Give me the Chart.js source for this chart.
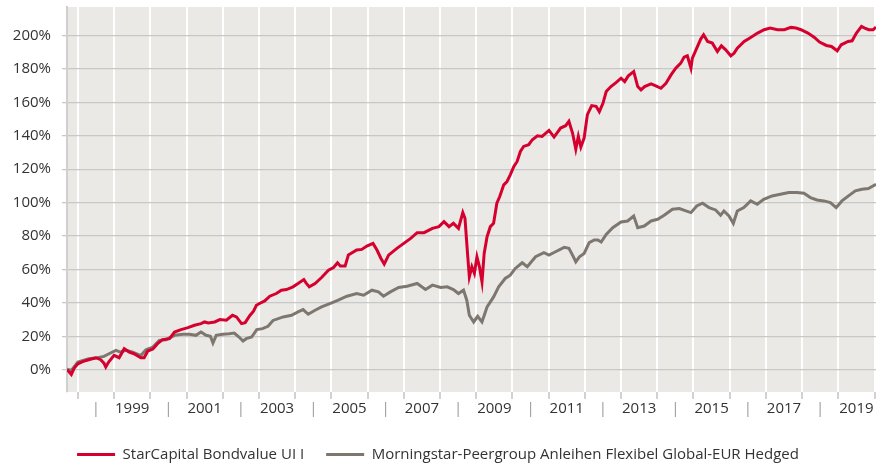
<!DOCTYPE html>
<html>
<head>
<meta charset="utf-8">
<script src="https://cdn.jsdelivr.net/npm/chart.js@4.4.1/dist/chart.umd.min.js"></script>
<style>
	html, body { margin: 0; padding: 0; background: #fff; }
	#chart { display: block; }
</style>
</head>
<body>
<canvas id="chart" width="883" height="466"></canvas>
<script>

var seriesNames = ["StarCapital Bondvalue UI I", "Morningstar-Peergroup Anleihen Flexibel Global-EUR Hedged"];

// StarCapital Bondvalue UI I, cumulative return in %
var redYears = [
	1997.70,1997.75,1997.82,1997.90,1998.00,1998.15,1998.30,1998.50,1998.63,1998.72,
	1998.77,1998.85,1999.00,1999.14,1999.28,1999.42,1999.55,1999.74,1999.83,1999.93,
	2000.07,2000.20,2000.34,2000.53,2000.67,2000.85,2001.04,2001.22,2001.40,2001.50,
	2001.60,2001.78,2001.92,2002.10,2002.27,2002.38,2002.52,2002.62,2002.75,2002.85,
	2002.93,2003.03,2003.16,2003.30,2003.48,2003.62,2003.76,2003.94,2004.08,2004.24,
	2004.30,2004.39,2004.55,2004.73,2004.92,2005.06,2005.17,2005.25,2005.38,2005.47,
	2005.70,2005.84,2005.98,2006.15,2006.26,2006.37,2006.46,2006.58,2006.81,2007.00,
	2007.19,2007.37,2007.56,2007.79,2007.97,2008.11,2008.25,2008.37,2008.51,2008.63,
	2008.69,2008.76,2008.81,2008.88,2008.95,2009.02,2009.09,2009.16,2009.22,2009.30,
	2009.39,2009.48,2009.57,2009.65,2009.76,2009.85,2009.94,2010.04,2010.13,2010.22,
	2010.31,2010.45,2010.55,2010.69,2010.82,2011.01,2011.15,2011.33,2011.47,2011.56,
	2011.66,2011.75,2011.82,2011.89,2011.98,2012.07,2012.19,2012.31,2012.40,2012.50,
	2012.59,2012.72,2012.86,2013.00,2013.10,2013.20,2013.35,2013.46,2013.55,2013.65,
	2013.83,2013.96,2014.10,2014.24,2014.38,2014.51,2014.65,2014.74,2014.83,2014.93,
	2014.97,2015.09,2015.20,2015.28,2015.39,2015.52,2015.66,2015.77,2015.89,2016.03,
	2016.12,2016.21,2016.40,2016.58,2016.77,2016.95,2017.12,2017.32,2017.51,2017.69,
	2017.83,2017.97,2018.16,2018.34,2018.48,2018.67,2018.81,2018.97,2019.08,2019.27,
	2019.38,2019.50,2019.64,2019.73,2019.84,2019.96,2020.04
];
var redValues = [
	0,-1,-2.8,1,3.6,5,6,7.2,6,4,
	1.6,4.6,8.6,7.2,12.6,10.6,9.6,7.2,7.2,11.2,
	12.4,15.6,18,18.6,22.6,24,25.2,26.6,27.6,28.6,
	28,28.6,30,29.6,32.6,31.6,27.6,28.2,32.5,35,
	38.6,39.8,41.2,44,45.6,47.6,48,49.6,51.6,54,
	52,49.6,51.6,55.2,59.6,61.2,64,62,62,68.6,
	71.6,72,74,75.6,71.6,66.6,63.2,68.6,72.6,75.6,
	78.6,82,82,84.6,85.6,88.6,85.6,87.6,84.6,94,
	90.6,69.6,55.6,61.6,57.6,67.6,61.6,52.6,69.6,79.6,
	85.6,87.6,99.6,103.6,110.6,112.6,116.6,121.6,124.6,130.6,
	133.6,134.6,137.6,140,139.6,143.2,139.2,144.6,146,148.6,
	141.6,132,139.6,133.2,138.6,152.6,158,157.6,154.4,159.4,
	166.4,169.4,171.8,174.4,172.4,175.8,178.4,169.4,167.4,169.4,
	171,169.8,168.4,171.4,176.4,180.4,183.4,187,187.8,180.4,
	186.4,192.4,197.8,200.4,196.4,195.4,190.4,193.8,191.4,187.8,
	189.4,192.4,196.4,198.8,201.4,203.4,204.4,203.4,203.4,204.8,
	204.4,203.4,201.4,198.8,196,194,193.4,190.8,194.4,196.4,
	196.8,201.4,205.4,204.4,203.4,203.4,205
];

// Morningstar peer group, cumulative return in %
var greyYears = [
	1997.70,1997.82,1998.00,1998.30,1998.54,1998.72,1998.86,1999.05,1999.18,1999.32,
	1999.50,1999.74,1999.88,2000.07,2000.25,2000.43,2000.67,2000.90,2001.08,2001.26,
	2001.40,2001.54,2001.66,2001.73,2001.82,2002.00,2002.18,2002.32,2002.45,2002.56,
	2002.65,2002.80,2002.94,2003.10,2003.25,2003.39,2003.67,2003.90,2004.08,2004.22,
	2004.36,2004.55,2004.73,2005.01,2005.19,2005.43,2005.70,2005.89,2006.12,2006.30,
	2006.44,2006.63,2006.86,2007.09,2007.37,2007.60,2007.79,2008.02,2008.20,2008.37,
	2008.51,2008.65,2008.74,2008.81,2008.93,2009.04,2009.16,2009.30,2009.48,2009.62,
	2009.80,2009.94,2010.08,2010.27,2010.41,2010.64,2010.87,2011.01,2011.19,2011.43,
	2011.56,2011.66,2011.75,2011.85,2011.98,2012.12,2012.26,2012.36,2012.45,2012.59,
	2012.77,2013.00,2013.18,2013.35,2013.46,2013.64,2013.83,2014.01,2014.19,2014.42,
	2014.61,2014.79,2014.93,2015.09,2015.25,2015.43,2015.61,2015.75,2015.84,2015.98,
	2016.10,2016.21,2016.39,2016.58,2016.76,2016.94,2017.17,2017.40,2017.63,2017.86,
	2018.05,2018.23,2018.41,2018.60,2018.78,2018.94,2019.10,2019.28,2019.47,2019.65,
	2019.83,2020.04
];
var greyValues = [
	0.4,-0.4,4.6,6.6,7.2,8,9.6,11.6,10.6,11.6,
	10.6,8.5,12,13.6,17.6,18,20.6,21.2,21.2,20.6,
	22.6,20.6,20,16,20.6,21.2,21.6,22,19.6,17.2,
	18.6,19.6,24,24.6,26,29.5,31.6,32.6,34.6,36,
	33.2,35.6,37.6,40,41.6,44,45.6,44.6,47.6,46.6,
	44,46.6,49.2,50,51.6,48,50.6,49.2,49.6,48,
	45.6,47.6,41.6,32.6,28.6,32,28.6,37.6,43.6,49.6,
	54.6,56.6,60.6,64,61.6,67.6,70,68.6,70.6,73.2,
	72.6,68.6,64.6,67.6,69.6,76,77.6,77.6,76.4,81,
	85,88.4,89,92,85,86,89,90,92.4,96,
	96.4,95,94,98,99.6,97,95.6,92.4,95,92,
	87.6,95,97,101,99,102,104,105,106,106,
	105.6,103,101.6,101,100,97,101,104,107,108,
	108.4,111
];

// axis ticks
var gridYears = [1998,1999,2000,2001,2002,2003,2004,2005,2006,2007,2008,2009,2010,2011,2012,2013,2014,2015,2016,2017,2018,2019,2020];
var labelYears = [1999,2001,2003,2005,2007,2009,2011,2013,2015,2017,2019];
var separatorYears = [1998,2000,2002,2004,2006,2008,2010,2012,2014,2016,2018];
var yTicks = [0,20,40,60,80,100,120,140,160,180,200];

function toPoints(xs, ys){
	var pts = [];
	for (var i = 0; i < xs.length; i++){
		pts.push({x: xs[i], y: ys[i]});
	}
	return pts;
}

function isGridYear(v){
	return Math.abs(v - Math.round(v)) < 0.01;
}

var plotBackground = {
	id: 'plotBackground',
	beforeDraw: function(chart){
		var a = chart.chartArea;
		var ctx = chart.ctx;
		ctx.save();
		ctx.fillStyle = '#ebe9e6';
		ctx.fillRect(a.left, a.top, a.right - a.left, a.bottom - a.top);
		ctx.restore();
	}
};

Chart.defaults.font.family = "'Open Sans', sans-serif";
Chart.defaults.color = '#333';

var chart = new Chart(document.getElementById('chart'), {
	type: 'line',
	data: {
		datasets: [{
			label: seriesNames[0],
			data: toPoints(redYears, redValues),
			borderColor: '#d6002f',
			backgroundColor: '#d6002f',
			borderWidth: 3,
			pointRadius: 0,
			tension: 0
		}, {
			label: seriesNames[1],
			data: toPoints(greyYears, greyValues),
			borderColor: '#7d7770',
			backgroundColor: '#7d7770',
			borderWidth: 3,
			pointRadius: 0,
			tension: 0
		}]
	},
	options: {
		responsive: false,
		animation: false,
		devicePixelRatio: 1,
		layout: { padding: { top: 7, right: 7, left: 0, bottom: -6 } },
		plugins: {
			tooltip: { enabled: false },
			legend: {
				position: 'bottom',
				labels: {
					boxWidth: 38,
					boxHeight: 3,
					padding: 22,
					color: '#333',
					font: { size: 15 },
					generateLabels: function(chart){
						var items = Chart.defaults.plugins.legend.labels.generateLabels(chart);
						items.forEach(function(it){ it.lineWidth = 0; });
						return items;
					}
				}
			}
		},
		scales: {
			x: {
				type: 'linear',
				min: 1997.70,
				max: 2020.04,
				afterFit: function(scale){
					scale.height = 33;
					scale.paddingLeft = 0;
					scale.paddingRight = 0;
				},
				afterBuildTicks: function(scale){
					var t = [];
					gridYears.forEach(function(y){ t.push({value: y}); });
					labelYears.forEach(function(y){ t.push({value: y + 0.5}); });
					separatorYears.forEach(function(y){ t.push({value: y + 0.5}); });
					t.sort(function(a, b){ return a.value - b.value; });
					scale.ticks = t;
				},
				border: { display: false },
				grid: {
					lineWidth: 2,
					tickLength: 7,
					color: function(ctx){ return ctx.tick && isGridYear(ctx.tick.value) ? '#ffffff' : 'rgba(0,0,0,0)'; },
					tickColor: function(ctx){ return ctx.tick && isGridYear(ctx.tick.value) ? '#d2d2d2' : 'rgba(0,0,0,0)'; }
				},
				ticks: {
					autoSkip: false,
					maxRotation: 0,
					padding: 1,
					font: { size: 15 },
					color: function(ctx){
						var y = Math.floor(ctx.tick.value);
						return separatorYears.indexOf(y) >= 0 ? '#9a9a9a' : '#333';
					},
					callback: function(value){
						if (isGridYear(value)) { return ''; }
						var y = Math.floor(value);
						if (labelYears.indexOf(y) >= 0) { return String(y); }
						if (separatorYears.indexOf(y) >= 0) { return '|'; }
						return '';
					}
				}
			},
			y: {
				min: -13.3,
				max: 217,
				afterFit: function(scale){
					scale.width = 67;
					scale.paddingTop = 0;
					scale.paddingBottom = 0;
				},
				afterBuildTicks: function(scale){
					scale.ticks = yTicks.map(function(v){ return {value: v}; });
				},
				border: { display: true, color: '#cfcfcf', width: 2 },
				grid: {
					color: '#c8c8c8',
					lineWidth: 1.3,
					tickLength: 5
				},
				ticks: {
					padding: 11,
					font: { size: 15 },
					color: '#333',
					callback: function(value){ return value + '%'; }
				}
			}
		}
	},
	plugins: [plotBackground]
});

</script>
</body>
</html>
